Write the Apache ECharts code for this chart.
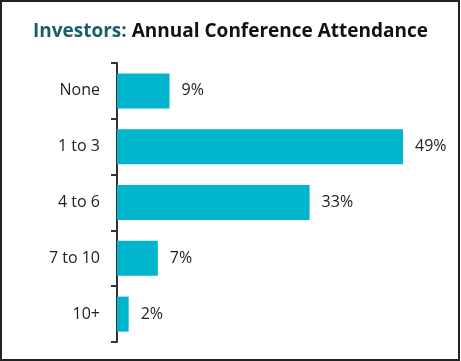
<!DOCTYPE html>
<html><head><meta charset="utf-8">
<script src="https://cdn.jsdelivr.net/npm/echarts@6/dist/echarts.min.js"></script>
<style>
html,body{margin:0;padding:0;background:#fff;}
#frame{position:absolute;left:0;top:0;width:460px;height:361px;box-sizing:border-box;border:2px solid #222;}
#chart{position:absolute;left:0;top:0;width:461px;height:361px;}
</style></head>
<body>
<div id="chart"></div>
<div id="frame"></div>
<script>
const categories = ["None", "1 to 3", "4 to 6", "7 to 10", "10+"];
const values = [9, 49, 33, 7, 2];
const titleLead = "Investors:";
const titleRest = "Annual Conference Attendance";

const chart = echarts.init(document.getElementById('chart'), null, {renderer: 'canvas'});
chart.setOption({
  animation: false,
  title: {
    text: '{a|' + titleLead + '} {b|' + titleRest + '}',
    left: 'center',
    top: 17,
    textStyle: {
      rich: {
        a: {fontFamily: 'Open Sans', fontWeight: 'bold', fontSize: 19, color: '#1b5e6b'},
        b: {fontFamily: 'Open Sans', fontWeight: 'bold', fontSize: 19, color: '#111'}
      }
    }
  },
  grid: {left: 117, top: 63, width: 321, height: 279},
  xAxis: {
    type: 'value', min: 0, max: 55, show: false
  },
  yAxis: {
    type: 'category',
    data: categories,
    inverse: true,
    axisLine: {show: true, lineStyle: {color: '#333', width: 2}},
    axisTick: {show: true, length: 6, lineStyle: {color: '#333', width: 2}},
    axisLabel: {fontFamily: 'Open Sans', fontSize: 16, color: '#222', margin: 17}
  },
  series: [{
    type: 'bar',
    data: values,
    barWidth: 35,
    itemStyle: {color: '#00b5cc'},
    label: {
      show: true, position: 'right', distance: 12,
      formatter: '{c}%',
      fontFamily: 'Open Sans', fontSize: 16, color: '#222'
    }
  }]
});
</script>
</body></html>
